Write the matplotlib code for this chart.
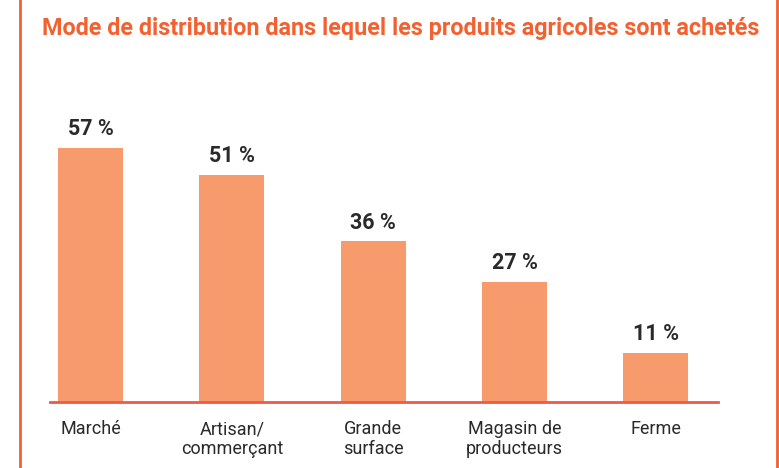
import matplotlib
matplotlib.use('Agg')
import matplotlib.pyplot as plt
from matplotlib.lines import Line2D

categories = ['Marché', 'Artisan/\ncommerçant', 'Grande\nsurface', 'Magasin de\nproducteurs', 'Ferme']
values = [57, 51, 36, 27, 11]
value_labels = ['57 %', '51 %', '36 %', '27 %', '11 %']
title = 'Mode de distribution dans lequel les produits agricoles sont achetés'

orange = '#F2612F'
barColor = '#F79B6D'
textColor = '#2A2A2A'

plt.rcParams['font.family'] = ['Roboto', 'DejaVu Sans']

fig = plt.figure(figsize=(7.79, 4.68), dpi=100)
ax = fig.add_axes([50 / 779, 1 - 402 / 468, 668 / 779, 302 / 468])

x = list(range(len(values)))
ax.bar(x, values, width=0.46, color=barColor, zorder=2)

for xi, v, lab in zip(x, values, value_labels):
    ax.text(xi, v + 1.7, lab, ha='center', va='bottom', fontsize=15.5,
            fontweight='bold', color=textColor)

ax.set_xlim(-0.287, 4.44)
ax.set_ylim(0, 302 / 4.46)
ax.set_xticks(x)
ax.set_xticklabels(categories, fontsize=13, color=textColor, linespacing=1.15, va='top')
ax.tick_params(axis='x', length=0, pad=13)
ax.set_yticks([])
for side in ['left', 'right', 'top']:
    ax.spines[side].set_visible(False)
ax.spines['bottom'].set_color('#EE5A45')
ax.spines['bottom'].set_linewidth(2)

fig.text(401 / 779, 1 - 28 / 468, title, ha='center', va='center', fontsize=16.8,
         fontweight='bold', color=orange)

fig.add_artist(Line2D([20 / 779, 20 / 779], [0, 1], color=orange, linewidth=2))
fig.add_artist(Line2D([777 / 779, 777 / 779], [0, 1], color=orange, linewidth=2))

fig.savefig('out.png', dpi=100)
